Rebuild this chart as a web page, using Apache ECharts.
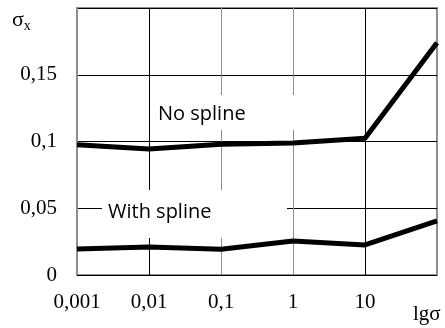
<!DOCTYPE html>
<html>
<head>
<meta charset="utf-8">
<script src="https://cdn.jsdelivr.net/npm/echarts@6/dist/echarts.min.js"></script>
<style>html,body{margin:0;padding:0;background:#fff}#c{width:445px;height:328px}</style>
</head>
<body>
<div id="c"></div>
<script>
var xLabels = ['0,001', '0,01', '0,1', '1', '10', ''];
var yLabels = {0: '0', 0.05: '0,05', 0.1: '0,1', 0.15: '0,15'};
var noSpline = [0.0975, 0.0943, 0.098, 0.0988, 0.1025, 0.174];
var withSpline = [0.0195, 0.021, 0.0193, 0.0255, 0.0225, 0.0405];

function pts(arr) { return arr.map(function (v, i) { return [i, v]; }); }

var chart = echarts.init(document.getElementById('c'));
var gray = '#8f8f8f';
chart.setOption({
  animation: false,
  grid: { left: 77, right: 8, top: 8, bottom: 53, show: true, borderColor: gray, borderWidth: 2, backgroundColor: 'transparent' },
  xAxis: {
    type: 'value', min: 0, max: 5, interval: 1,
    axisLine: { show: false }, axisTick: { show: false },
    axisLabel: { margin: 17, color: '#000', fontFamily: 'Liberation Serif', fontSize: 21,
      formatter: function (v) { return xLabels[Math.round(v)]; } },
    splitLine: { show: true, lineStyle: { width: 1, color: [gray, '#000', gray, gray, '#000', gray] } }
  },
  yAxis: {
    type: 'value', min: 0, max: 0.2, interval: 0.05,
    axisLine: { show: false }, axisTick: { show: false },
    axisLabel: { margin: 20, color: '#000', fontFamily: 'Liberation Serif', fontSize: 21,
      formatter: function (v) { var k = Math.round(v * 100) / 100; return yLabels[k] !== undefined ? yLabels[k] : ''; } },
    splitLine: { show: true, lineStyle: { width: 1, color: '#000' } }
  },
  graphic: [
    { type: 'rect', z: 1, shape: { x: 152, y: 95, width: 148, height: 35 }, style: { fill: '#fff' } },
    { type: 'text', z: 2, left: 158, top: 104, style: { text: 'No spline', fontFamily: 'Open Sans', fontSize: 20, fill: '#000' } },
    { type: 'rect', z: 1, shape: { x: 102, y: 190, width: 185, height: 48 }, style: { fill: '#fff' } },
    { type: 'text', z: 2, left: 108, top: 202, style: { text: 'With spline', fontFamily: 'Open Sans', fontSize: 20, fill: '#000' } },
    { type: 'text', z: 2, left: 12, top: 9, style: { rich: { s: { fontFamily: 'Liberation Serif', fontSize: 22, fill: '#000' }, sub: { fontFamily: 'Liberation Serif', fontSize: 14, fill: '#000', padding: [12, 0, 0, 0] } }, text: '{s|σ}{sub|x}' } },
    { type: 'text', z: 2, left: 413, top: 304, style: { text: 'lgσ', fontFamily: 'Liberation Serif', fontSize: 21, fill: '#000' } }
  ],
  series: [
    { type: 'line', z: 5, data: pts(noSpline), showSymbol: false, lineStyle: { color: '#000', width: 5 } },
    { type: 'line', z: 5, data: pts(withSpline), showSymbol: false, lineStyle: { color: '#000', width: 5 } }
  ]
});
</script>
</body>
</html>
